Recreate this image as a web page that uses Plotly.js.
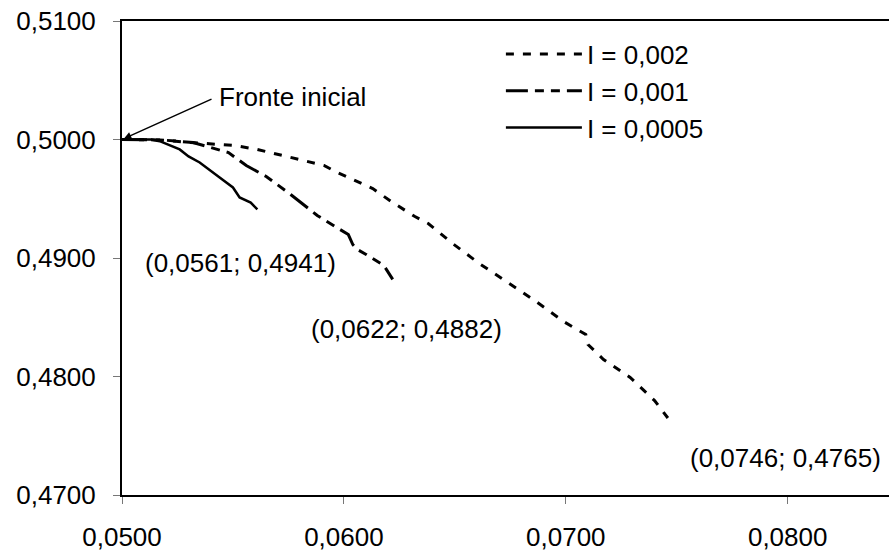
<!DOCTYPE html>
<html>
<head>
<meta charset="utf-8">
<script src="https://cdn.plot.ly/plotly-3.0.1.min.js"></script>
<style>html,body{margin:0;padding:0;background:#fff;}#chart{width:889px;height:552px;}</style>
</head>
<body>
<div id="chart"></div>
<script>
// Series I = 0,002
var x002 = [0.0500, 0.0517, 0.0531, 0.0551, 0.0561, 0.0574, 0.0580, 0.0591, 0.0597, 0.0606, 0.0613, 0.0622, 0.0632, 0.0638, 0.0649, 0.0661, 0.0675, 0.0686, 0.0699, 0.07055, 0.0709, 0.0710, 0.0717, 0.0729, 0.0740, 0.0746];
var y002 = [0.5000, 0.49996, 0.49975, 0.49949, 0.49916, 0.49857, 0.49831, 0.49781, 0.49722, 0.49646, 0.49586, 0.49468, 0.4935, 0.49291, 0.49122, 0.48954, 0.48776, 0.48641, 0.48464, 0.48388, 0.48354, 0.4827, 0.48143, 0.47992, 0.47797, 0.4765];
// Series I = 0,001
var x001 = [0.0500, 0.0518, 0.0532, 0.0538, 0.0548, 0.0556, 0.0565, 0.0576, 0.0580, 0.0588, 0.0596, 0.0602, 0.0604, 0.0606, 0.0610, 0.0618, 0.0622];
var y001 = [0.5000, 0.49996, 0.49975, 0.49941, 0.4989, 0.4978, 0.49688, 0.49536, 0.49477, 0.49359, 0.49266, 0.49198, 0.49114, 0.49072, 0.4903, 0.48937, 0.4882];
// Series I = 0,0005
var x0005 = [0.0500, 0.0513, 0.0517, 0.0526, 0.0530, 0.0535, 0.0544, 0.0550, 0.0553, 0.0558, 0.0561];
var y0005 = [0.5000, 0.5000, 0.49986, 0.49916, 0.49857, 0.49806, 0.49679, 0.49595, 0.49511, 0.49468, 0.4941];

var seriesNames = ["I = 0,002", "I = 0,001", "I = 0,0005"];
var xTicks = [0.05, 0.06, 0.07, 0.08];
var yTicks = [0.47, 0.48, 0.49, 0.50, 0.51];

var FONT = "Arial, 'Liberation Sans', sans-serif";
var FS = 26;

var traces = [
  {x: x002, y: y002, name: seriesNames[0], mode: "lines", legendgroup: "a",
   line: {color: "#000", width: 3, dash: "8px,9px"}},
  {x: x001, y: y001, name: seriesNames[1], mode: "lines", legendgroup: "b",
   line: {color: "#000", width: 3, dash: "22px,7px,9px,7px,9px,7px"}},
  {x: x0005, y: y0005, name: seriesNames[2], mode: "lines", legendgroup: "c",
   line: {color: "#000", width: 2.5}}
];

var layout = {
  width: 889, height: 552,
  margin: {l: 122, r: 0, t: 21, b: 57},
  paper_bgcolor: "#fff", plot_bgcolor: "#fff",
  separators: ", ",
  font: {family: FONT, size: FS, color: "#000"},
  showlegend: true,
  legend: {x: 0.494, y: 0.98, xanchor: "left", yanchor: "top", bgcolor: "rgba(0,0,0,0)",
           font: {family: FONT, size: FS, color: "#000"}, itemwidth: 76, tracegroupgap: 0, traceorder: "grouped"},
  xaxis: {range: [0.05, 0.084565], tickvals: xTicks, tickformat: ".4f",
          showgrid: false, zeroline: false, showline: true, linecolor: "#000", linewidth: 2, mirror: true,
          ticks: "outside", ticklen: 7, tickcolor: "#777", tickwidth: 1, ticklabelstandoff: 11,
          tickfont: {family: FONT, size: FS, color: "#000"}},
  yaxis: {range: [0.47, 0.51], tickvals: yTicks, tickformat: ".4f",
          showgrid: false, zeroline: false, showline: true, linecolor: "#000", linewidth: 2,
          ticks: "outside", ticklen: 7, tickcolor: "#777", tickwidth: 1, ticklabelstandoff: 12,
          tickfont: {family: FONT, size: FS, color: "#000"}},
  annotations: [
    {x: 0.05, y: 0.5, xref: "x", yref: "y", text: "", showarrow: true, ax: 91, ay: -41,
     arrowhead: 2, arrowsize: 1, arrowwidth: 1.5, arrowcolor: "#000", standoff: 2},
    {x: 0.0577, y: 0.5036, xref: "x", yref: "y", text: "Fronte inicial", showarrow: false,
     font: {family: FONT, size: FS, color: "#000"}},
    {x: 0.05532, y: 0.48962, xref: "x", yref: "y", text: "(0,0561; 0,4941)", showarrow: false,
     font: {family: FONT, size: FS, color: "#000"}},
    {x: 0.0628, y: 0.48405, xref: "x", yref: "y", text: "(0,0622; 0,4882)", showarrow: false,
     font: {family: FONT, size: FS, color: "#000"}},
    {x: 0.07988, y: 0.47316, xref: "x", yref: "y", text: "(0,0746; 0,4765)", showarrow: false,
     font: {family: FONT, size: FS, color: "#000"}}
  ]
};

Plotly.newPlot("chart", traces, layout, {staticPlot: true, displayModeBar: false});
</script>
</body>
</html>
